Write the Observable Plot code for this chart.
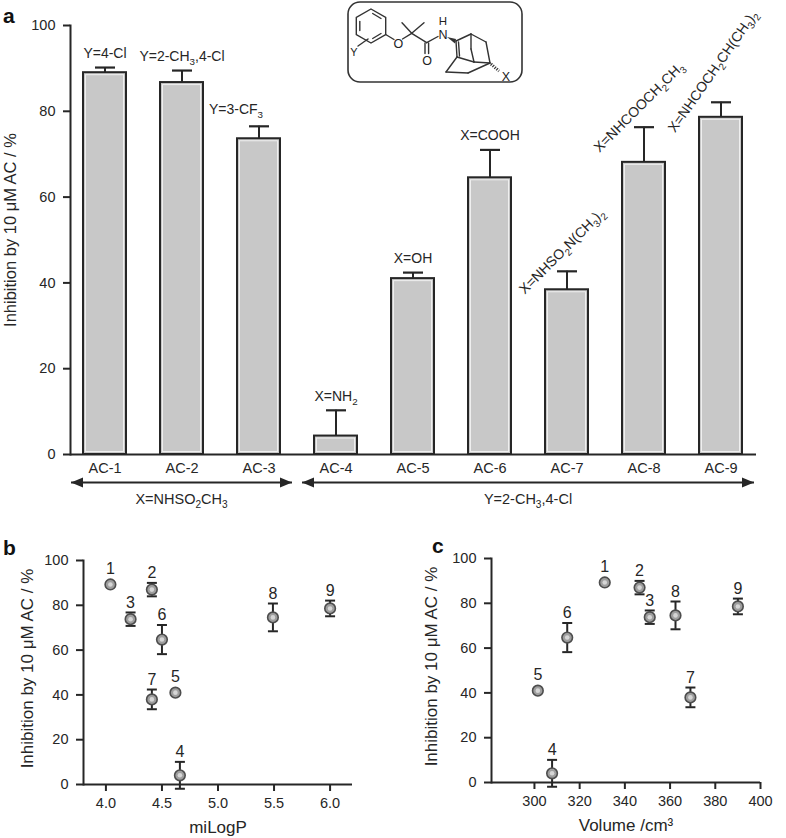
<!DOCTYPE html>
<html><head><meta charset="utf-8">
<script src="https://cdn.jsdelivr.net/npm/d3@7"></script>
<script src="https://cdn.jsdelivr.net/npm/@observablehq/plot@0.6"></script>
<style>
 body{margin:0;background:#fff;font-family:"Liberation Sans",Arial,Helvetica,sans-serif;}
 #page{position:relative;width:786px;height:838px;overflow:hidden;background:#fff;}
 .panel{position:absolute;}
 .panel svg{overflow:visible;}
 #overlay{position:absolute;left:0;top:0;pointer-events:none;}
</style></head><body>
<div id="page">
 <div id="pa" class="panel" style="left:0;top:0"></div>
 <div id="pb" class="panel" style="left:0;top:530px"></div>
 <div id="pc" class="panel" style="left:400px;top:530px"></div>
 <svg id="overlay" width="786" height="838" font-family="Liberation Sans, Arial, sans-serif">
  <text x="3" y="23" font-size="21" font-weight="bold" fill="#111">a</text>
  <text x="3" y="555" font-size="21" font-weight="bold" fill="#111">b</text>
  <text x="432" y="553" font-size="21" font-weight="bold" fill="#111">c</text>
  <g transform="translate(340,0)">
   <rect x="8" y="2" width="174" height="80" rx="12" fill="#fff" stroke="#333" stroke-width="1.6"/>
   <g stroke="#333" stroke-width="1.4" fill="none" stroke-linecap="round">
    <polygon points="31,9 45.7,17.5 45.7,34.5 31,43 16.3,34.5 16.3,17.5"/>
    <line x1="32.7" y1="13.5" x2="41" y2="18.5"/>
    <line x1="41" y1="33.5" x2="32.7" y2="38.5"/>
    <line x1="19.8" y1="30.5" x2="19.8" y2="21.5"/>
    <line x1="18" y1="46" x2="28" y2="39"/>
    <line x1="45.7" y1="34.5" x2="54" y2="39.5"/>
    <line x1="62.5" y1="39" x2="71.7" y2="33.3"/>
    <line x1="71.7" y1="33.3" x2="62" y2="22.7"/>
    <line x1="71.7" y1="33.3" x2="84" y2="22.7"/>
    <line x1="71.7" y1="33.3" x2="86.7" y2="42.7"/>
    <line x1="85" y1="43" x2="85" y2="53.5"/>
    <line x1="88.6" y1="43" x2="88.6" y2="53.5"/>
    <line x1="86.7" y1="42.7" x2="98" y2="36.5"/>
    <line x1="116" y1="41" x2="131" y2="34"/>
    <line x1="131" y1="34" x2="146" y2="42"/>
    <line x1="146" y1="42" x2="150" y2="63"/>
    <line x1="116" y1="41" x2="117" y2="57"/>
    <line x1="118.5" y1="42" x2="119.5" y2="56"/>
    <line x1="117" y1="57" x2="106" y2="72"/>
    <line x1="106" y1="72" x2="128" y2="73"/>
    <line x1="128" y1="73" x2="150" y2="63"/>
    <line x1="117" y1="57" x2="134" y2="62"/>
    <line x1="134" y1="62" x2="150" y2="63"/>
    <line x1="131" y1="34" x2="131" y2="49"/>
    <line x1="131" y1="49" x2="134" y2="62"/>
   </g>
   <polygon points="107,37 116,39 115,43.5" fill="#333"/>
   <line x1="151" y1="64" x2="159" y2="71" stroke="#333" stroke-width="3" stroke-dasharray="1.2 1.3"/>
   <g font-size="12.5" fill="#222" text-anchor="middle">
    <text x="58.3" y="47.5">O</text>
    <text x="87" y="64.5">O</text>
    <text x="103" y="39">N</text>
    <text x="103" y="24.5" font-size="11.5">H</text>
    <text x="14" y="56" font-size="11">Y</text>
    <text x="166" y="81">X</text>
   </g>
  </g>
 </svg>
</div>
<script>
// ---------- data ----------
const categories = ["AC-1","AC-2","AC-3","AC-4","AC-5","AC-6","AC-7","AC-8","AC-9"];
const inhibitionA = [89.0, 86.7, 73.6, 4.3, 41.0, 64.5, 38.4, 68.1, 78.6];
const errorA = [1.2, 2.8, 2.9, 6.0, 1.4, 6.5, 4.3, 8.2, 3.5];
const substituentLabels = ["Y=4-Cl","Y=2-CH_3,4-Cl","Y=3-CF_3","X=NH_2","X=OH","X=COOH",
  "X=NHSO_2N(CH_3)_2","X=NHCOOCH_2CH_3","X=NHCOCH_2CH(CH_3)_2"];
const groupLabels = ["X=NHSO_2CH_3","Y=2-CH_3,4-Cl"];
const groupFrom = ["AC-1","AC-4"];
const groupTo = ["AC-3","AC-9"];

const compoundIds = ["1","2","3","4","5","6","7","8","9"];
const miLogP = [4.04, 4.41, 4.22, 4.66, 4.62, 4.50, 4.41, 5.49, 6.00];
const volume = [331.1, 346.5, 351.0, 307.8, 301.5, 314.5, 369.0, 362.4, 390.0];
const inhibition = [89.3, 87.0, 73.8, 4.1, 41.0, 64.7, 38.0, 74.6, 78.6];
const inhibitionErr = [0.8, 3.0, 3.0, 6.0, 0.8, 6.5, 4.4, 6.2, 3.5];

const yTicks = [0, 20, 40, 60, 80, 100];
const logPTicks = [4.0, 4.5, 5.0, 5.5, 6.0];
const volumeTicks = [300, 320, 340, 360, 380, 400];
const yLabel = "Inhibition by 10 \u03bcM AC / %";

// ---------- helpers ----------
const FONT = "'Liberation Sans', Arial, Helvetica, sans-serif";
const INK = "#262626";
const SVGNS = "http://www.w3.org/2000/svg";
const capSymbol = {draw(ctx, size) { const w = Math.sqrt(size / Math.PI); ctx.moveTo(-w, 0); ctx.lineTo(w, 0); }};

function subify(root) {
  root.querySelectorAll("text, tspan").forEach(el => {
    if (el.children.length) return;
    const s = el.textContent;
    if (!/_\d/.test(s)) return;
    const fs = parseFloat(getComputedStyle(el).fontSize) || 14;
    const shift = fs * 0.28;
    el.textContent = "";
    let off = 0;
    for (const p of s.split(/(_\d)/)) {
      if (!p) continue;
      const t = document.createElementNS(SVGNS, "tspan");
      if (/^_\d$/.test(p)) {
        t.setAttribute("dy", shift - off); off = shift;
        t.setAttribute("font-size", (fs * 0.7).toFixed(1));
        t.textContent = p[1];
      } else {
        if (off) { t.setAttribute("dy", -off); off = 0; }
        t.textContent = p;
      }
      el.appendChild(t);
    }
  });
}

// arrows with filled heads and centred label, derived from the rendered rule
function arrowRender(index, scales, values, dimensions, context, next) {
  const g = next(index, scales, values, dimensions, context);
  const lines = Array.from(g.querySelectorAll("line"));
  lines.forEach((line, k) => {
    const d = groups[index[k]];
    const x1 = +line.getAttribute("x1"), x2 = +line.getAttribute("x2"), y = +line.getAttribute("y1");
    for (const [x, dir] of [[x1, -1], [x2, 1]]) {
      const p = document.createElementNS(SVGNS, "path");
      p.setAttribute("d", `M${x},${y}L${x - dir * 12},${y - 5}L${x - dir * 12},${y + 5}Z`);
      p.setAttribute("fill", INK);
      p.setAttribute("stroke", "none");
      g.appendChild(p);
    }
    const t = document.createElementNS(SVGNS, "text");
    t.setAttribute("x", (x1 + x2) / 2);
    t.setAttribute("y", y + 21);
    t.setAttribute("text-anchor", "middle");
    t.setAttribute("font-size", "14.5");
    t.setAttribute("fill", INK);
    t.setAttribute("stroke", "none");
    t.textContent = d.label;
    g.appendChild(t);
  });
  return g;
}

// ---------- panel a ----------
const barsA = categories.map((c, i) => ({c, i, v: inhibitionA[i], e: errorA[i], label: substituentLabels[i]}));
const groups = groupLabels.map((label, i) => ({label, from: groupFrom[i], to: groupTo[i]}));

const plotA = Plot.plot({
  width: 786, height: 530,
  marginLeft: 70, marginRight: 30, marginTop: 25, marginBottom: 76,
  style: {fontFamily: FONT, fontSize: "14.5px", color: INK, background: "transparent", overflow: "visible"},
  x: {domain: categories, paddingInner: 0.44, paddingOuter: 0.13, label: null},
  y: {domain: [0, 100], label: null},
  marks: [
    Plot.barY(barsA, {x: "c", y: "v", fill: "#c8c8c8", stroke: INK, strokeWidth: 2}),
    Plot.barY(barsA, {x: "c", y: "v", inset: 2.5, fill: "none", stroke: "#efefef", strokeWidth: 1}),
    Plot.ruleX(barsA, {x: "c", y1: "v", y2: d => d.v + d.e, stroke: INK, strokeWidth: 2}),
    Plot.dot(barsA, {x: "c", y: d => d.v + d.e, symbol: capSymbol, r: 10, fill: "none", stroke: INK, strokeWidth: 2.2}),
    Plot.ruleY([0], {stroke: INK, strokeWidth: 2}),
    Plot.frame({anchor: "left", stroke: INK, strokeWidth: 2}),
    Plot.axisY({ticks: yTicks, tickSize: 7, tickPadding: 8, strokeWidth: 2, label: null, fontSize: 14.5}),
    Plot.axisX({tickSize: 0, tickPadding: 8, label: null, fontSize: 14.5}),
    Plot.text([yLabel], {text: d => d, frameAnchor: "left", textAnchor: "middle", lineAnchor: "middle", rotate: -90, dx: -60, dy: -10, fontSize: 16.5}),
    Plot.text(barsA.filter(d => [0, 1, 3, 4, 5].includes(d.i)), {x: "c", y: d => d.v + d.e, text: "label", dy: -14, fontSize: 14}),
    Plot.text(barsA.filter(d => d.i === 2), {x: "c", y: d => d.v + d.e, text: "label", dx: -23, dy: -17, fontSize: 14}),
    Plot.text(barsA.filter(d => d.i === 6 || d.i === 7), {x: "c", y: d => d.v + d.e, text: "label", rotate: -45, dx: -5, dy: -20, fontSize: 14}),
    Plot.text(barsA.filter(d => d.i === 8), {x: "c", y: d => d.v + d.e, text: "label", rotate: -55, dx: -8, dy: -31, fontSize: 14}),
    Plot.ruleY(groups, {x1: "from", x2: "to", y: () => 0, dy: 28, insetLeft: -12, insetRight: -12, stroke: INK, strokeWidth: 2, render: arrowRender})
  ]
});
document.getElementById("pa").appendChild(plotA);

// ---------- panels b and c ----------
const pts = compoundIds.map((id, i) => ({id, logp: miLogP[i], vol: volume[i], y: inhibition[i], e: inhibitionErr[i]}));

function scatterPanel(o) {
  return Plot.plot({
    width: o.width, height: 308,
    marginLeft: o.ml, marginRight: o.mr, marginTop: o.mt, marginBottom: 308 - o.mt - o.h,
    style: {fontFamily: FONT, fontSize: "14.5px", color: INK, background: "transparent", overflow: "visible"},
    x: {domain: o.domain, label: null},
    y: {domain: [0, 100], label: null},
    marks: [
      Plot.ruleY([0], {stroke: INK, strokeWidth: 2}),
      Plot.frame({anchor: "left", stroke: INK, strokeWidth: 2}),
      Plot.axisY({ticks: yTicks, tickSize: 7, tickPadding: 8, strokeWidth: 2, label: null, fontSize: 14.5}),
      Plot.axisX({ticks: o.ticks, tickFormat: o.fmt, tickSize: 7, tickPadding: 6, strokeWidth: 2, label: null, fontSize: 14.5}),
      Plot.text([yLabel], {text: d => d, frameAnchor: "left", textAnchor: "middle", lineAnchor: "middle", rotate: -90, dx: o.ydx, dy: -4, fontSize: 17}),
      Plot.text([o.xLabel], {text: d => d, frameAnchor: "bottom", lineAnchor: "middle", dy: 43, fontSize: 17}),
      Plot.ruleX(pts, {x: o.key, y1: d => d.y - d.e, y2: d => d.y + d.e, stroke: INK, strokeWidth: 2}),
      Plot.dot(pts, {x: o.key, y: d => d.y + d.e, symbol: capSymbol, r: 5, fill: "none", stroke: INK, strokeWidth: 2}),
      Plot.dot(pts, {x: o.key, y: d => d.y - d.e, symbol: capSymbol, r: 5, fill: "none", stroke: INK, strokeWidth: 2}),
      Plot.dot(pts, {x: o.key, y: "y", r: 5.3, fill: "#9e9e9e", stroke: "#4d4d4d", strokeWidth: 1.6}),
      Plot.dot(pts, {x: o.key, y: "y", r: 2.3, fill: "#d6d6d6"}),
      Plot.text(pts, {x: o.key, y: d => d.y + Math.max(d.e, 2.5), text: "id", dy: -10, fontSize: 16})
    ]
  });
}

const plotB = scatterPanel({key: "logp", width: 400, ml: 83, mr: 48, mt: 30, h: 224,
  domain: [3.8, 6.2], ticks: logPTicks, fmt: d3.format(".1f"), xLabel: "miLogP", ydx: -56});
document.getElementById("pb").appendChild(plotB);

const plotC = scatterPanel({key: "vol", width: 386, ml: 91, mr: 26, mt: 28, h: 224,
  domain: [281, 400], ticks: volumeTicks, fmt: d3.format("d"), xLabel: "Volume /cm\u00b3", ydx: -60});
document.getElementById("pc").appendChild(plotC);

subify(document.getElementById("page"));
</script>
</body></html>
